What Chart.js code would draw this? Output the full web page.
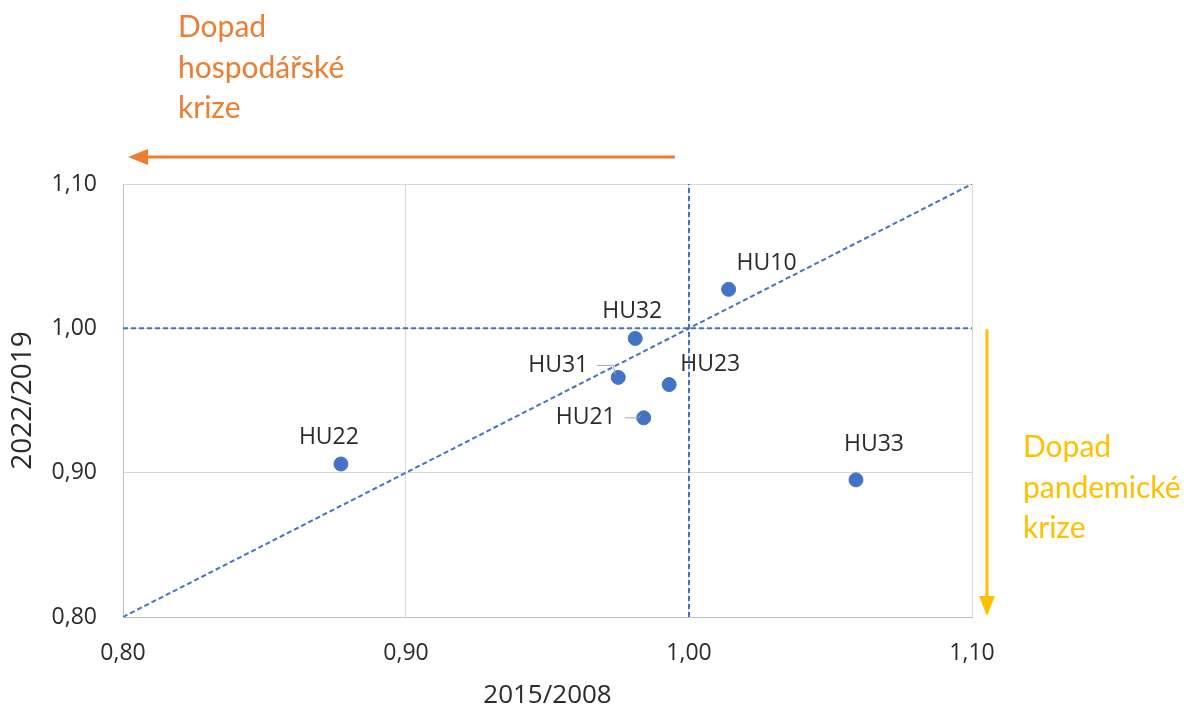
<!DOCTYPE html>
<html>
<head>
<meta charset="utf-8">
<script src="https://cdn.jsdelivr.net/npm/chart.js"></script>
<style>
  body { margin: 0; background: #fff; }
  #wrap { width: 1188px; height: 709px; }
</style>
</head>
<body>
<div id="wrap"><canvas id="scatterChart" width="1188" height="709"></canvas></div>
<script>
// regions and their ratios
var regions = ['HU10', 'HU32', 'HU31', 'HU23', 'HU21', 'HU22', 'HU33'];
var ratio2015_2008 = [1.014, 0.981, 0.975, 0.993, 0.984, 0.877, 1.059];
var ratio2022_2019 = [1.027, 0.993, 0.966, 0.961, 0.938, 0.906, 0.895];

// axis ticks
var tickValues = [0.80, 0.90, 1.00, 1.10];

// reference lines
var refX = 1.00;
var refY = 1.00;
var diagonal = [0.80, 1.10];

// label placement relative to each point (px)
var labelOffsets = {
    HU10: [38, -26], HU32: [-3, -27], HU31: [-60, -12], HU23: [41, -20],
    HU21: [-58, 0], HU22: [-12, -27], HU33: [18, -35]
};
var leaderLines = { HU31: true, HU21: true };

var fmt = function (v) { return v.toFixed(2).replace('.', ','); };

var points = regions.map(function (r, i) {
    return { x: ratio2015_2008[i], y: ratio2022_2019[i] };
});

var blue = '#4472C4';
var textColor = '#2b2b2b';
var fontFamily = '"Open Sans", sans-serif';
var dashed = { borderColor: blue, borderWidth: 2, borderDash: [5, 3], showLine: true, pointRadius: 0, fill: false, order: 2 };

var annotations = {
    id: 'annotations',
    afterDatasetsDraw: function (chart) {
        var ctx = chart.ctx;
        var area = chart.chartArea;
        var xs = chart.scales.x, ys = chart.scales.y;
        var meta = chart.getDatasetMeta(0);

        ctx.save();
        // point labels
        ctx.font = '23px ' + fontFamily;
        ctx.fillStyle = textColor;
        ctx.textAlign = 'center';
        ctx.textBaseline = 'middle';
        meta.data.forEach(function (el, i) {
            var name = regions[i];
            var off = labelOffsets[name];
            var lx = el.x + off[0], ly = el.y + off[1];
            ctx.fillText(name, lx, ly);
            if (leaderLines[name]) {
                ctx.strokeStyle = '#a6a6a6';
                ctx.lineWidth = 1;
                ctx.beginPath();
                var w = ctx.measureText(name).width;
                ctx.moveTo(lx + w / 2 + 9, ly);
                ctx.lineTo(el.x - 5, ly);
                ctx.lineTo(el.x - 3, el.y - 3);
                ctx.stroke();
            }
        });

        // orange arrow (economic crisis)
        var orange = '#ED7D31';
        var ay = area.top - 27;
        var ax0 = xs.getPixelForValue(0.995);
        var ax1 = area.left + 5;
        ctx.strokeStyle = orange;
        ctx.fillStyle = orange;
        ctx.lineWidth = 3;
        ctx.beginPath();
        ctx.moveTo(ax0, ay);
        ctx.lineTo(ax1 + 16, ay);
        ctx.stroke();
        ctx.beginPath();
        ctx.moveTo(ax1, ay);
        ctx.lineTo(ax1 + 20, ay - 8);
        ctx.lineTo(ax1 + 20, ay + 8);
        ctx.closePath();
        ctx.fill();

        // yellow arrow (pandemic crisis)
        var yellow = '#FFC000';
        var bx = area.right + 15;
        var by0 = ys.getPixelForValue(refY) + 1;
        var by1 = area.bottom - 1;
        ctx.strokeStyle = yellow;
        ctx.fillStyle = yellow;
        ctx.beginPath();
        ctx.moveTo(bx, by0);
        ctx.lineTo(bx, by1 - 16);
        ctx.stroke();
        ctx.beginPath();
        ctx.moveTo(bx, by1);
        ctx.lineTo(bx - 8, by1 - 20);
        ctx.lineTo(bx + 8, by1 - 20);
        ctx.closePath();
        ctx.fill();

        // annotation texts
        ctx.font = '30px Lato, sans-serif';
        ctx.textAlign = 'left';
        ctx.textBaseline = 'alphabetic';
        ctx.fillStyle = orange;
        ['Dopad', 'hospodářské', 'krize'].forEach(function (t, i) {
            ctx.fillText(t, 178, 37 + i * 40.5);
        });
        ctx.fillStyle = yellow;
        ['Dopad', 'pandemické', 'krize'].forEach(function (t, i) {
            ctx.fillText(t, 1023, 457 + i * 40.5);
        });
        ctx.restore();
    }
};

function drawChart() {
    new Chart(document.getElementById('scatterChart').getContext('2d'), {
        type: 'scatter',
        data: {
            datasets: [
                { label: 'Regiony', data: points, backgroundColor: blue, borderColor: blue, pointRadius: 7, pointHoverRadius: 7, order: 0 },
                Object.assign({ data: [{ x: refX, y: tickValues[0] }, { x: refX, y: tickValues[tickValues.length - 1] }] }, dashed),
                Object.assign({ data: [{ x: tickValues[0], y: refY }, { x: tickValues[tickValues.length - 1], y: refY }] }, dashed),
                Object.assign({ data: [{ x: diagonal[0], y: diagonal[0] }, { x: diagonal[1], y: diagonal[1] }] }, dashed)
            ]
        },
        options: {
            responsive: false,
            animation: false,
            layout: { padding: { left: 0, top: 184, right: 216, bottom: 0 } },
            plugins: { legend: { display: false }, tooltip: { enabled: false } },
            scales: {
                x: {
                    type: 'linear',
                    min: 0.80, max: 1.10,
                    afterFit: function (s) { s.height = 92; },
                    afterBuildTicks: function (s) { s.ticks = tickValues.map(function (v) { return { value: v }; }); },
                    ticks: { padding: 23, color: textColor, font: { family: fontFamily, size: 23 }, callback: fmt },
                    grid: { color: '#d9d9d9', lineWidth: 1, drawTicks: false },
                    border: { color: '#bfbfbf', width: 1 },
                    title: { display: true, text: '2015/2008', color: textColor, font: { family: fontFamily, size: 26, lineHeight: 1 }, padding: { top: 0, bottom: 0 } }
                },
                y: {
                    type: 'linear',
                    min: 0.80, max: 1.10,
                    afterFit: function (s) { s.width = 123; },
                    afterBuildTicks: function (s) { s.ticks = tickValues.map(function (v) { return { value: v }; }); },
                    ticks: { padding: 26, color: textColor, font: { family: fontFamily, size: 23 }, callback: fmt },
                    grid: { color: '#d9d9d9', lineWidth: 1, drawTicks: false },
                    border: { color: '#bfbfbf', width: 1 },
                    title: { display: true, text: '2022/2019', color: textColor, font: { family: fontFamily, size: 28, lineHeight: 1 }, padding: { top: 9, bottom: 0 } }
                }
            }
        },
        plugins: [annotations]
    });
}

Promise.all([
    document.fonts.load('23px "Open Sans"'),
    document.fonts.load('30px Lato')
]).then(drawChart, drawChart);
</script>
</body>
</html>
